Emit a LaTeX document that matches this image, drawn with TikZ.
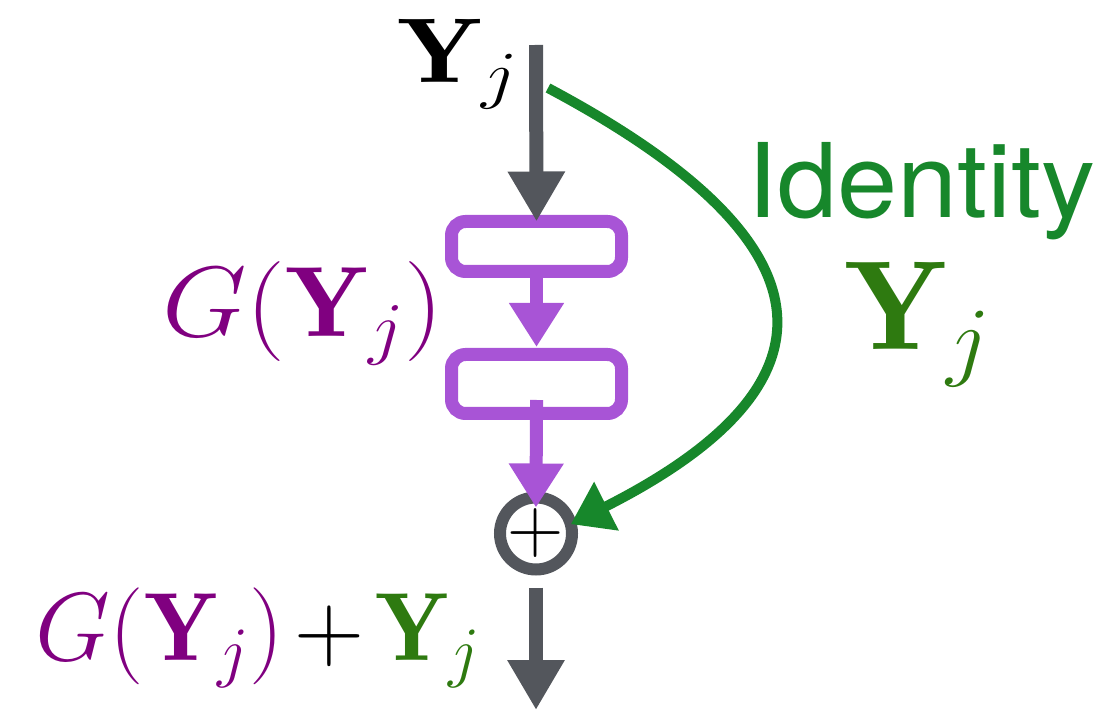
\RequirePackage{fix-cm}
\documentclass[tikz,border=0pt]{standalone}
\usepackage{graphicx}
\usepackage{fontspec}
\newfontfamily\idfont{TeX Gyre Heros}
\usetikzlibrary{arrows.meta}
\definecolor{flowgray}{HTML}{53565C}
\definecolor{boxpurple}{HTML}{A854D6}
\definecolor{txtpurple}{HTML}{800080}
\definecolor{idgreen}{HTML}{17872B}
\definecolor{ygreen}{HTML}{2E7A10}
\newcommand\Yj{\mathbf{Y}_{j}}
\begin{document}
\begin{tikzpicture}[x=1pt,y=-1pt,
  flow/.style={line width=14pt, draw=flowgray, -{Triangle[length=50pt,width=54pt]}},
  pflow/.style={line width=13pt, draw=boxpurple, -{Triangle[length=44pt,width=52pt]}},
  idflow/.style={line width=10pt, draw=idgreen, -{Triangle[length=40pt,width=52pt]}},
  gbox/.style={draw=boxpurple, line width=13pt, rounded corners=14pt, minimum width=170pt, inner sep=0pt, outer sep=0pt, fill=white},
  sumnode/.style={circle, draw=flowgray, line width=12pt, minimum size=72pt, inner sep=0pt, outer sep=0pt},
  lbl/.style={anchor=base west, inner sep=0pt, outer sep=0pt}]
\useasboundingbox (0,0) rectangle (1096,711);

\coordinate (in) at (536,45);
\coordinate (out) at (536,710);
\coordinate (idstart) at (548,88);

\node[gbox, minimum height=50pt] (g1) at (536.5,246.5) {};
\node[gbox, minimum height=59pt] (g2) at (536.5,384) {};
\node[sumnode] (sum) at (536,533.5) {};
\node[inner sep=0pt] (plus) at (sum.center) {\fontsize{78}{80}\selectfont$+$};

\draw[flow] (in) -- (g1.north);
\draw[pflow, shorten >=7.5pt] (g1.south) -- (g2.north);
\draw[pflow, shorten <=-13.5pt, shorten >=-10pt] (g2.south) -- (sum.north);
\draw[flow, shorten <=18pt] (sum.south) -- (out);
\draw[idflow] (idstart) .. controls +(282,150) and +(285,-144) .. (sum.15);

\node[lbl] (yin) at (397,83) {\scalebox{1.22}[1]{\fontsize{92}{100}\selectfont$\Yj$}};
\node[lbl, text=txtpurple] (glabel) at (162,337) {\scalebox{1.095}[1]{\fontsize{100}{110}\selectfont$G(\Yj)$}};
\node[lbl] (sumlabel) at (35,660) {\fontsize{97}{110}\selectfont$\color{txtpurple}G(\Yj)\color{black}\mkern2mu{+}\mkern2mu\color{ygreen}\Yj$};
\node[lbl, text=idgreen] (idtext) at (747,218) {\scalebox{1.05}[1]{\fontsize{103}{110}\selectfont\idfont Identity}};
\node[lbl, text=ygreen] (ylabel) at (844,350) {\scalebox{1.07}[1]{\fontsize{127}{140}\selectfont$\Yj$}};
\end{tikzpicture}
\end{document}
